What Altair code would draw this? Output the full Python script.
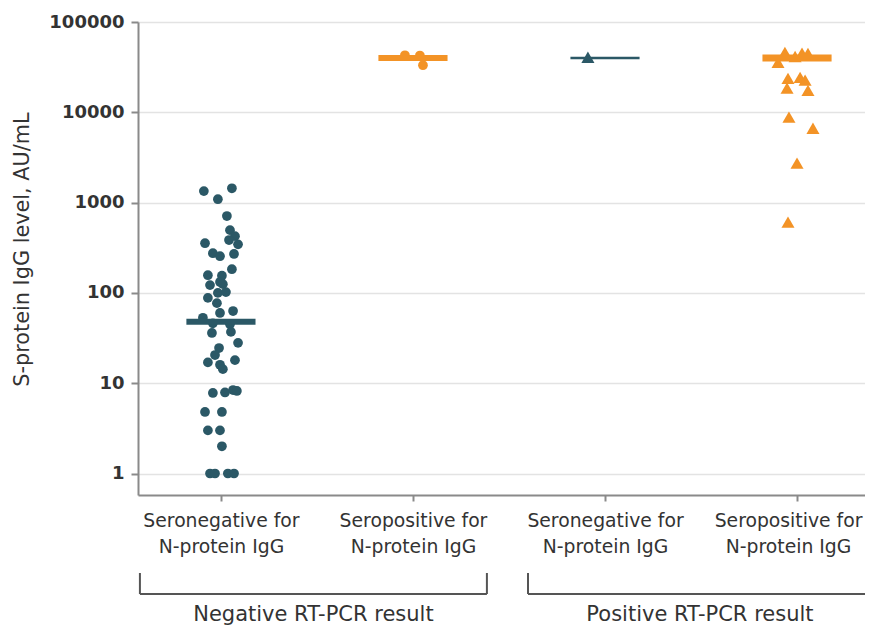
import altair as alt
import pandas as pd

# ---------------- data ----------------
group_names = ["neg_seroneg", "neg_seropos", "pos_seroneg", "pos_seropos"]
group_centers = [1, 2, 3, 4]
label_line1 = ["Seronegative for", "Seropositive for", "Seronegative for", "Seropositive for"]
label_line2 = ["N-protein IgG", "N-protein IgG", "N-protein IgG", "N-protein IgG"]
serostatus = ["seroneg", "seropos", "seroneg", "seropos"]
pcr_status = ["neg", "neg", "pos", "pos"]

# Negative RT-PCR, seronegative for N-protein IgG (jitter offset, S-protein IgG AU/mL)
g1_offset = [-0.089, -0.016, 0.057, 0.031, 0.047, 0.073, 0.042, 0.089, -0.083, -0.042,
             -0.005, 0.068, -0.068, 0.005, 0.057, -0.005, -0.057, 0.010, -0.016, -0.068,
             -0.021, 0.026, -0.005, 0.063, -0.094, -0.042, 0.047, -0.047, 0.052, 0.089,
             -0.010, -0.068, -0.031, -0.005, 0.073, 0.010, -0.042, 0.021, 0.063, 0.083,
             -0.083, 0.005, -0.068, -0.005, 0.005, -0.057, -0.031, 0.036, 0.068]
g1_value = [1340, 1090, 1440, 710, 495, 425, 385, 345, 355, 275,
            255, 270, 157, 155, 183, 132, 122, 125, 100, 88,
            77, 102, 60, 63, 53, 46, 45, 36, 37, 28,
            24.5, 17, 20.5, 16, 18, 14.3, 7.8, 7.9, 8.4, 8.2,
            4.8, 4.8, 3, 3, 2, 1, 1, 1, 1]

# Negative RT-PCR, seropositive for N-protein IgG
g2_offset = [-0.042, 0.036, 0.052]
g2_value = [42800, 42500, 33200]

# Positive RT-PCR, seronegative for N-protein IgG
g3_offset = [-0.089]
g3_value = [40700]

# Positive RT-PCR, seropositive for N-protein IgG
g4_offset = [-0.063, 0.026, 0.057, -0.099, -0.010, -0.047, 0.016, 0.042, -0.052, 0.057,
             -0.042, 0.083, 0.0, -0.047]
g4_value = [46200, 45100, 45000, 35800, 41500, 23800, 24400, 22700, 18500, 17500,
            8820, 6660, 2730, 607]

medians = [48, 40000, 40000, 40000]

bracket_start = [0.578, 2.599]
bracket_end = [2.385, 4.39]
bracket_label = ["Negative RT-PCR result", "Positive RT-PCR result"]

y_ticks = [1, 10, 100, 1000, 10000, 100000]

# ---------------- styles ----------------
TEAL = "#2b5866"
ORANGE = "#f39326"
TEXT = "#333333"
AXIS = "#8a8a8a"
FONT = "DejaVu Sans"
median_stroke = {"neg_seroneg": 6, "neg_seropos": 6, "pos_seroneg": 2.5, "pos_seropos": 7}
HALF = 0.18

# ---------------- tables ----------------
rows = []
for gi, (offs, vals) in enumerate([(g1_offset, g1_value), (g2_offset, g2_value),
                                   (g3_offset, g3_value), (g4_offset, g4_value)]):
    for o, v in zip(offs, vals):
        rows.append({"group": group_names[gi], "x": group_centers[gi] + o, "value": v,
                     "sero": serostatus[gi], "pcr": pcr_status[gi]})
pts = pd.DataFrame(rows)

med = pd.DataFrame({"group": group_names,
                    "x1": [c - HALF for c in group_centers],
                    "x2": [c + HALF for c in group_centers],
                    "value": medians, "sero": serostatus,
                    "sw": [median_stroke[g] for g in group_names]})

br = pd.DataFrame({"start": bracket_start, "end": bracket_end, "label": bracket_label})
br["mid"] = (br["start"] + br["end"]) / 2
br_ends = pd.DataFrame({"pos": bracket_start + bracket_end})

color_scale = alt.Scale(domain=["seroneg", "seropos"], range=[TEAL, ORANGE])

label_expr = " : ".join(
    f"datum.value == {c} ? ['{a}', '{b}']" for c, a, b in zip(group_centers, label_line1, label_line2)
) + " : ''"

x_scale = alt.Scale(domain=[0.568, 4.354], nice=False, zero=False)
y_scale = alt.Scale(type="log", domain=[0.578, 100000], nice=False)

x_axis = alt.Axis(values=group_centers, labelExpr=label_expr, title=None, grid=False,
                  domainColor=AXIS, domainWidth=2, tickColor=AXIS, tickWidth=2, tickSize=6,
                  labelFont=FONT, labelFontSize=18.8, labelColor=TEXT, labelLineHeight=26,
                  labelPadding=10, labelAngle=0, labelFlush=False, labelOverlap=False,
                  labelOffset={"condition": {"test": f"datum.value == {group_centers[-1]}", "value": -9},
                               "value": 0})
y_axis = alt.Axis(values=y_ticks, format="d", title="S-protein IgG level, AU/mL",
                  grid=True, gridColor="#e3e3e3", gridWidth=1.5,
                  domainColor=AXIS, domainWidth=2, tickColor=AXIS, tickWidth=2, tickSize=7,
                  labelPadding=7, labelFont="DejaVu Sans", labelFontWeight="bold",
                  labelFontSize=18, labelColor=TEXT,
                  titleFont=FONT, titleFontSize=20.8, titleFontWeight="normal", titleColor=TEXT,
                  titleAngle=270, titleX=-116, titleY=227, titleAlign="center",
                  titleBaseline="middle")

base_pts = alt.Chart(pts)
circles = base_pts.transform_filter(alt.datum.pcr == "neg").mark_point(
    shape="circle", filled=True, size=95, opacity=1
).encode(
    x=alt.X("x:Q", scale=x_scale, axis=x_axis),
    y=alt.Y("value:Q", scale=y_scale, axis=y_axis),
    color=alt.Color("sero:N", scale=color_scale, legend=None),
)
triangles = base_pts.transform_filter(alt.datum.pcr == "pos").mark_point(
    shape="triangle-up", filled=True, size=170, opacity=1
).encode(
    x=alt.X("x:Q", scale=x_scale),
    y=alt.Y("value:Q", scale=y_scale),
    color=alt.Color("sero:N", scale=color_scale, legend=None),
)

median_rules = alt.Chart(med).mark_rule().encode(
    x=alt.X("x1:Q", scale=x_scale),
    x2="x2:Q",
    y=alt.Y("value:Q", scale=y_scale),
    color=alt.Color("sero:N", scale=color_scale, legend=None),
    strokeWidth=alt.StrokeWidth("sw:Q", scale=None, legend=None),
)

bracket_h = alt.Chart(br).mark_rule(color="#555555", strokeWidth=2).encode(
    x=alt.X("start:Q", scale=x_scale), x2="end:Q", y=alt.value(572)
)
bracket_v = alt.Chart(br_ends).mark_rule(color="#555555", strokeWidth=2).encode(
    x=alt.X("pos:Q", scale=x_scale), y=alt.value(551), y2=alt.value(572)
)
bracket_text = alt.Chart(br).mark_text(font=FONT, fontSize=21, color=TEXT, baseline="alphabetic",
                                        align="center").encode(
    x=alt.X("mid:Q", scale=x_scale), y=alt.value(599), text="label:N"
)

chart = alt.layer(circles, triangles, median_rules, bracket_h, bracket_v, bracket_text).properties(
    width=727, height=473,
    autosize=alt.AutoSizeParams(type="none"),
    padding={"left": 130, "top": 14, "right": 0, "bottom": 130},
).configure_view(strokeWidth=0)

chart.save("out.html", embed_options={"renderer": "svg", "actions": False})
